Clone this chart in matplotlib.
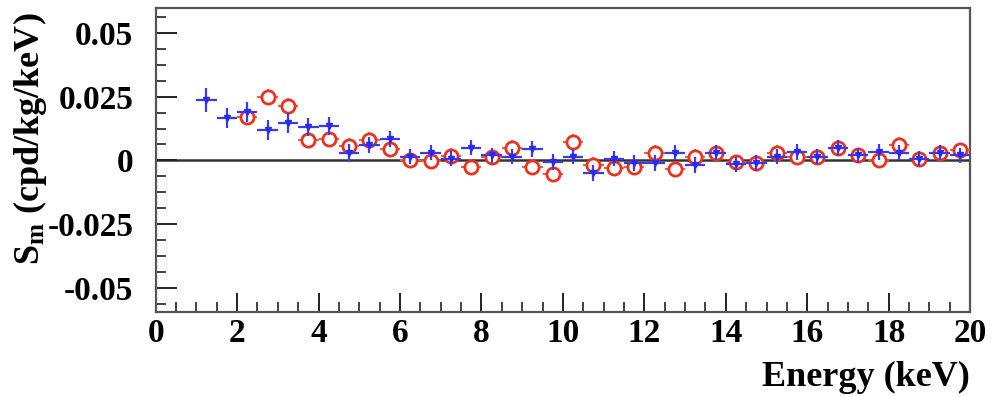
import numpy as np
import matplotlib
matplotlib.use("Agg")
import matplotlib.pyplot as plt
from matplotlib.ticker import MultipleLocator

# police serif grasse, comme dans la figure d'origine
plt.rcParams["font.family"] = ["Liberation Serif", "DejaVu Serif"]
plt.rcParams["font.weight"] = "bold"
plt.rcParams["mathtext.fontset"] = "custom"
plt.rcParams["mathtext.rm"] = "Liberation Serif:bold"
plt.rcParams["mathtext.it"] = "Liberation Serif:bold"
plt.rcParams["mathtext.bf"] = "Liberation Serif:bold"

# donnees (centre des bins de 0.5 keV)
blue_x = [1.25, 1.75, 2.25, 2.75, 3.25, 3.75, 4.25, 4.75, 5.25, 5.75,
          6.25, 6.75, 7.25, 7.75, 8.25, 8.75, 9.25, 9.75, 10.25, 10.75,
          11.25, 11.75, 12.25, 12.75, 13.25, 13.75, 14.25, 14.75, 15.25, 15.75,
          16.25, 16.75, 17.25, 17.75, 18.25, 18.75, 19.25, 19.75]
blue_y = [0.0237, 0.0167, 0.0190, 0.0120, 0.0147, 0.0131, 0.0135, 0.0030, 0.0060, 0.0084,
          0.0014, 0.0030, 0.0006, 0.0050, 0.0020, 0.0014, 0.0045, -0.0006, 0.0014, -0.0050,
          0.0006, -0.0010, -0.0010, 0.0030, -0.0018, 0.0030, -0.0015, -0.0010, 0.0014, 0.0033,
          0.0014, 0.0050, 0.0020, 0.0033, 0.0030, 0.0006, 0.0030, 0.0020]
blue_err = [0.0047, 0.0040, 0.0040, 0.0040, 0.0038, 0.0035, 0.0035, 0.0035, 0.0032, 0.0032,
            0.0030, 0.0030, 0.0030, 0.0030, 0.0030, 0.0030, 0.0030, 0.0030, 0.0030, 0.0030,
            0.0030, 0.0030, 0.0030, 0.0030, 0.0030, 0.0030, 0.0030, 0.0030, 0.0030, 0.0030,
            0.0030, 0.0030, 0.0030, 0.0030, 0.0030, 0.0030, 0.0030, 0.0030]

red_x = [2.25, 2.75, 3.25, 3.75, 4.25, 4.75, 5.25, 5.75,
         6.25, 6.75, 7.25, 7.75, 8.25, 8.75, 9.25, 9.75, 10.25, 10.75,
         11.25, 11.75, 12.25, 12.75, 13.25, 13.75, 14.25, 14.75, 15.25, 15.75,
         16.25, 16.75, 17.25, 17.75, 18.25, 18.75, 19.25, 19.75]
red_y = [0.0170, 0.0250, 0.0214, 0.0080, 0.0084, 0.0057, 0.0080, 0.0045,
         0.0002, -0.0003, 0.0018, -0.0025, 0.0014, 0.0050, -0.0025, -0.0053, 0.0073, -0.0018,
         -0.0030, -0.0025, 0.0030, -0.0033, 0.0014, 0.0030, -0.0008, -0.0010, 0.0030, 0.0014,
         0.0014, 0.0050, 0.0020, 0.0002, 0.0060, 0.0006, 0.0030, 0.0040]
red_err = [0.0030] * len(red_x)

half_bin = 0.25

fig = plt.figure(figsize=(9.91, 3.97), dpi=100)
ax = fig.add_axes([0.157, 0.214, 0.822, 0.766])

ax.axhline(0, color="#333333", lw=1.8, zorder=1)

ax.errorbar(red_x, red_y, xerr=half_bin, yerr=red_err, fmt="o", ms=9.5,
            mfc="white", mec="#e8331f", mew=2.0, ecolor="#f05a3a",
            elinewidth=1.4, capsize=0, zorder=3)
ax.errorbar(blue_x, blue_y, xerr=half_bin, yerr=blue_err, fmt="v", ms=5,
            color="#2a2aee", ecolor="#3a3af0", elinewidth=1.6, capsize=0,
            zorder=4)

ax.set_xlim(0, 20)
ax.set_ylim(-0.0595, 0.0598)
ax.xaxis.set_major_locator(MultipleLocator(2))
ax.xaxis.set_minor_locator(MultipleLocator(0.5))
ax.set_yticks([-0.05, -0.025, 0, 0.025, 0.05])
ax.set_yticklabels(["-0.05", "-0.025", "0", "0.025", "0.05"])
ax.yaxis.set_minor_locator(MultipleLocator(0.00625))

ax.tick_params(which="both", direction="in", top=False, right=False,
               labelsize=24, color="#222222")
ax.tick_params(axis="y", which="major", length=15, width=1.4, pad=16)
ax.tick_params(axis="y", which="minor", length=7, width=1.2)
ax.tick_params(axis="x", which="major", length=14, width=1.4, pad=4)
ax.tick_params(axis="x", which="minor", length=7, width=1.2)
for lab in ax.get_xticklabels() + ax.get_yticklabels():
    lab.set_fontweight("bold")

for sp in ax.spines.values():
    sp.set_color("#555555")
    sp.set_linewidth(1.6)

ax.set_xlabel("Energy (keV)", fontsize=26, fontweight="bold", loc="right",
              labelpad=9)
fig.text(30 / 991, 1 - 12 / 397, r"S$_{\rm m}$ (cpd/kg/keV)", fontsize=26,
         fontweight="bold", rotation=90, ha="center", va="top")

fig.savefig("out.png", dpi=100)
